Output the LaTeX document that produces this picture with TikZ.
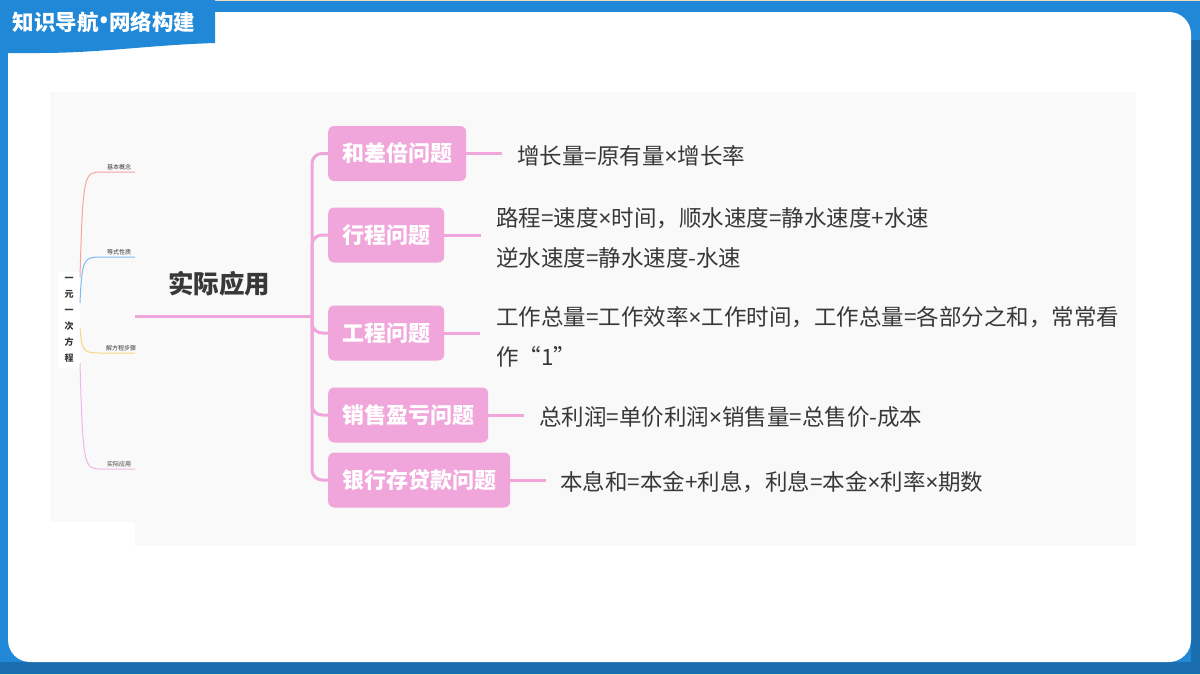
\documentclass[tikz,border=0pt]{standalone}
\usepackage{fontspec}
\setmainfont{Noto Sans CJK SC}
\newfontfamily\latfont{Noto Sans}
\newcommand\timesx{{\latfont ×}}
\usetikzlibrary{positioning}
\definecolor{frameblue}{HTML}{2088D6}
\definecolor{frameblued}{HTML}{1A6DAE}
\definecolor{panelgrey}{HTML}{F9F9F9}
\definecolor{pinkbox}{HTML}{F0A6DA}
\definecolor{pinkline}{HTML}{F0A6DA}
\definecolor{txt}{HTML}{383838}
\definecolor{cred}{HTML}{F7A3A3}
\definecolor{cblue}{HTML}{7DBDF2}
\definecolor{cyellow}{HTML}{F8D680}
\definecolor{cpink}{HTML}{F3B6E2}
\definecolor{beige}{HTML}{F2DCC0}
\tikzset{
  topicbox/.style={fill=pinkbox, rounded corners=6pt, anchor=west, text=white,
    font=\fontsize{22}{26}\selectfont\bfseries, inner xsep=14pt, minimum height=55pt},
  desc/.style={anchor=west, text=txt, font=\fontsize{22.5}{40}\selectfont, align=left, inner sep=0pt},
  branch/.style={draw=pinkline, line width=3pt, rounded corners=10pt},
  mini/.style={font=\fontsize{6}{7}\selectfont, text=txt, anchor=south, inner sep=1pt},
  minicurve/.style={line width=1pt}
}
\begin{document}
\begin{tikzpicture}[x=1pt,y=-1pt]
\useasboundingbox (0,0) rectangle (1200,675);
% frame
\fill[frameblue] (0,0) rectangle (1200,675);
\fill[frameblued] (0,662) rectangle (1200,675);
\fill[frameblued] (1191,40) rectangle (1200,675);
\fill[beige] (0,673.5) rectangle (1200,675);
\fill[beige] (215,0) rectangle (1200,1.2);
\fill[white, rounded corners=22pt] (8,12) rectangle (1191,662);
% title tab
\fill[frameblue] (0,0) -- (215,0) -- (215,43) .. controls (150,45) and (100,53) .. (40,53) -- (0,53) -- cycle;
\node[text=white, font=\fontsize{21.5}{24}\selectfont\bfseries, inner sep=0pt] (title) at (104,22) {知识导航{\latfont\bfseries\fontsize{28}{24}\selectfont •}网络构建};
% panels
\fill[panelgrey] (50,92) rectangle (1136,522);
\fill[panelgrey] (135,92) rectangle (1136,546);
% mini mind map
\node[fill=white, minimum width=22pt, minimum height=96pt, inner sep=0pt, align=center,
  font=\fontsize{9}{16}\selectfont\bfseries, text=txt] (root) at (69,320) {一\\元\\一\\次\\方\\程};
\coordinate (r1) at (80,277);
\coordinate (r2) at (80,303);
\coordinate (r3) at (80,328);
\coordinate (r4) at (80,363);
\coordinate (e1) at (135,172);
\coordinate (e2) at (135,257);
\coordinate (e3) at (135,353);
\coordinate (e4) at (135,469);
\draw[minicurve, cred] (r1) .. controls (83,172) and (84,172) .. (102,172) -- (e1);
\draw[minicurve, cblue] (r2) .. controls (82,257) and (84,257) .. (102,257) -- (e2);
\draw[minicurve, cyellow] (r3) .. controls (82,353) and (84,353) .. (102,353) -- (e3);
\draw[minicurve, cpink] (r4) .. controls (83,469) and (84,469) .. (102,469) -- (e4);
\node[mini] (l1) at (119,171) {基本概念};
\node[mini] (l2) at (119,256) {等式性质};
\node[mini] (l3) at (121,352) {解方程步骤};
\node[mini] (l4) at (119,468) {实际应用};
% main topic
\node[text=txt, font=\fontsize{25.5}{30}\selectfont\bfseries, inner sep=0pt] (main) at (219,284) {实际应用};
\coordinate (u0) at (135,316);
\coordinate (j) at (312,316);
\draw[pinkline, line width=3pt] (u0) -- (j);
% topic boxes
\node[topicbox] (b1) at (328,153.5) {和差倍问题};
\node[topicbox] (b2) at (328,235) {行程问题};
\node[topicbox] (b3) at (328,333) {工程问题};
\node[topicbox] (b4) at (328,415) {销售盈亏问题};
\node[topicbox] (b5) at (328,480) {银行存贷款问题};
\foreach \b in {b1,b2,b3,b4,b5}{
  \draw[branch] (j) |- (\b.west);
}
% descriptions
\node[desc] (d1) at (517,156) {增长量=原有量\timesx 增长率};
\node[desc] (d2) at (496,238) {路程=速度\timesx 时间，顺水速度=静水速度+水速\\逆水速度=静水速度-水速};
\node[desc] (d3) at (496,337) {工作总量=工作效率\timesx 工作时间，工作总量=各部分之和，常常看\\作“1”};
\node[desc] (d4) at (539,417) {总利润=单价利润\timesx 销售量=总售价-成本};
\node[desc] (d5) at (560,482) {本息和=本金+利息，利息=本金\timesx 利率\timesx 期数};
\draw[pinkline, line width=3pt] (b1.east) -- ++(36,0) coordinate (t1);
\draw[pinkline, line width=3pt] (b2.east) -- ++(37,0) coordinate (t2);
\draw[pinkline, line width=3pt] (b3.east) -- ++(36,0) coordinate (t3);
\draw[pinkline, line width=3pt] (b4.east) -- ++(36,0) coordinate (t4);
\draw[pinkline, line width=3pt] (b5.east) -- ++(36,0) coordinate (t5);
\end{tikzpicture}
\end{document}
